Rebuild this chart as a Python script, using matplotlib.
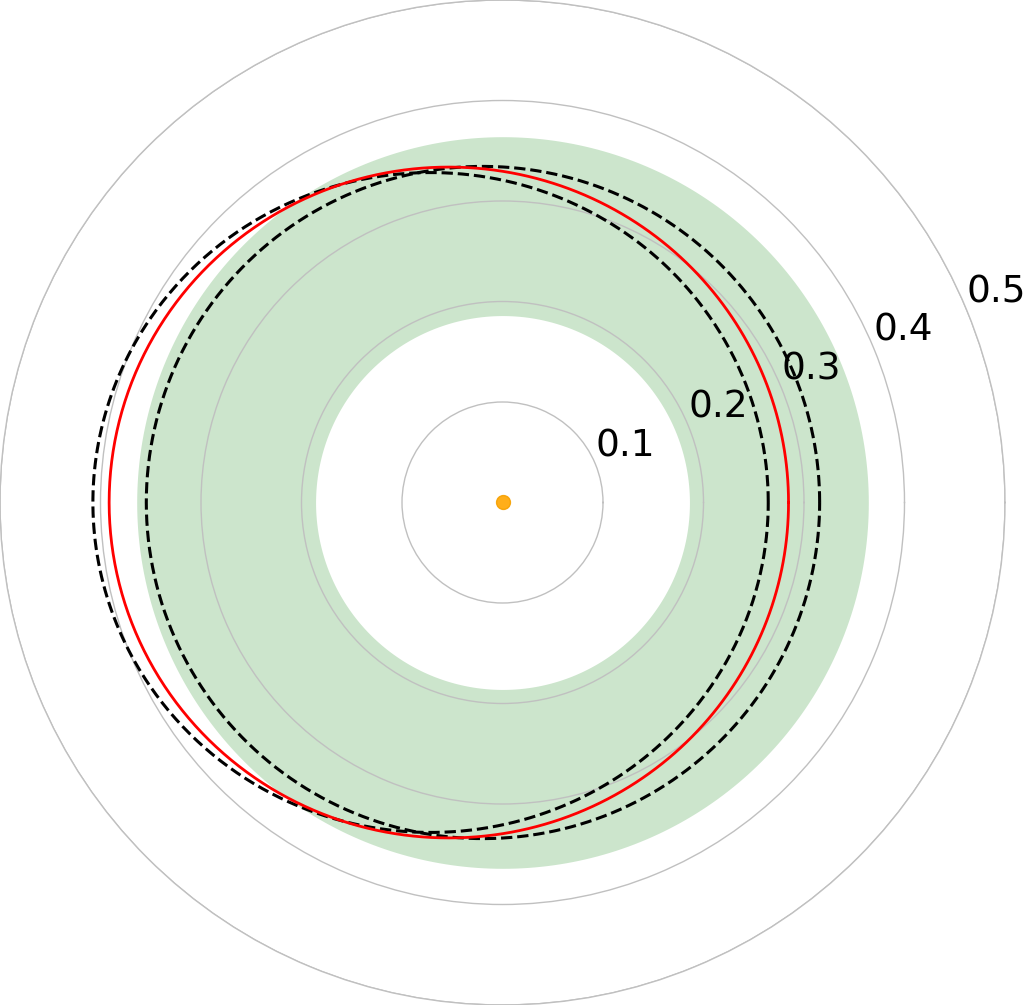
import numpy as np
import matplotlib
matplotlib.use("Agg")
import matplotlib.pyplot as plt

# radial grid
r_ticks = [0.1, 0.2, 0.3, 0.4, 0.5]
r_max = 0.5

# habitable zone (inner, outer), AU
hz_inner = 0.186
hz_outer = 0.364

# orbits: semi-major axis, eccentricity, argument of periastron (deg)
best_a, best_e, best_w = 0.338, 0.158, 0.0
bound_a = [0.336, 0.335]
bound_e = [0.213, 0.058]
bound_w = [0.0, 0.0]


def orbit(a, e, w, n=721):
    th = np.linspace(0, 2 * np.pi, n)
    r = a * (1 - e**2) / (1 + e * np.cos(th - np.radians(w)))
    return th, r


def main():
    fig = plt.figure(figsize=(10.24, 10.05), dpi=100)
    ax = fig.add_axes([0, 0, 1005 / 1024, 1], projection='polar')

    th = np.linspace(0, 2 * np.pi, 361)
    ax.fill_between(th, hz_inner, hz_outer, color='green', alpha=0.2, lw=0,
                    zorder=0.2)

    for a, e, w in zip(bound_a, bound_e, bound_w):
        t, r = orbit(a, e, w)
        ax.plot(t, r, color='black', ls='--', lw=2.2)

    t, r = orbit(best_a, best_e, best_w)
    ax.plot(t, r, color='red', lw=2)

    ax.plot(0, 0, 'o', color='orange', markersize=10,
            markeredgecolor='#f5a000', alpha=0.9, zorder=5)

    ax.set_rmax(r_max)
    ax.set_rticks(r_ticks)
    ax.set_yticklabels([str(v) for v in r_ticks], fontsize=27)
    ax.set_xticks([])
    ax.grid(True, color='#c0c0c0', lw=1)
    ax.spines['polar'].set_color('#c0c0c0')
    ax.spines['polar'].set_linewidth(1)
    ax.set_axisbelow(True)

    fig.savefig('out.png', dpi=100)


if __name__ == "__main__":
    main()
